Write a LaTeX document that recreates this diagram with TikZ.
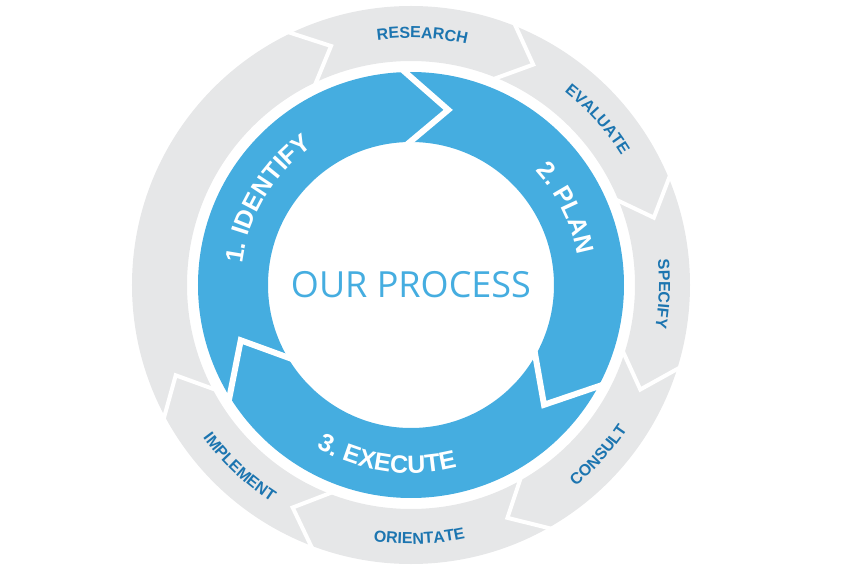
\documentclass[tikz,border=0pt]{standalone}
\usepackage{fontspec}
\setsansfont{Liberation Sans}
\newfontfamily\procfont{Open Sans}
\usetikzlibrary{decorations.text}
\definecolor{ringgray}{RGB}{230,231,232}
\definecolor{ringblue}{RGB}{69,173,224}
\definecolor{labelblue}{RGB}{28,117,176}
\tikzset{
	graycut/.style = {
		draw=white,
		line width=4bp,
		line join=miter
	},
	bluecut/.style = {
		draw=white,
		line width=6bp,
		line join=miter
	},
	steplabel/.style = {
		decorate,
		decoration={text along path, text align=center, text color=labelblue,
			text={|\sffamily\bfseries\fontsize{16bp}{18bp}\selectfont|#1}}
	},
	phaselabel/.style = {
		decorate,
		decoration={text along path, text align=center, text color=white,
			text={|\sffamily\bfseries\fontsize{25bp}{29bp}\selectfont|#1}}
	},
	titlenode/.style = {
		font=\procfont\fontsize{36bp}{40bp}\selectfont,
		text=ringblue,
		inner sep=0pt
	}
}

\begin{document}
\begin{tikzpicture}
\useasboundingbox (-411bp,-285bp) rectangle (437bp,285bp);
\fill[ringgray, even odd rule] (0,0) circle (279bp) (0,0) circle (224bp);
\foreach \b in {116.5,69,23.5,-16.5,-59.5,-110,-151}
	\draw[graycut] (\b:284bp) -- ({\b-8}:252bp) -- (\b:219bp);
\fill[ringblue, even odd rule] (0,0) circle (213bp) (0,0) circle (143bp);
\foreach \b in {93,-27,-147}
	\draw[bluecut] (\b:218bp) -- ({\b-15}:179bp) -- (\b:138bp);
\node[titlenode] (title) at (0,0) {OUR PROCESS};
% outer steps
\path[steplabel=RESEARCH] (127.4:247bp) arc[start angle=127.4, end angle=47.4, radius=247bp];
\path[steplabel=EVALUATE] (81.6:247bp) arc[start angle=81.6, end angle=1.6, radius=247bp];
\path[steplabel=SPECIFY] (37.9:248bp) arc[start angle=37.9, end angle=-42.1, radius=248bp];
\path[steplabel=CONSULT] (-82.2:260bp) arc[start angle=-82.2, end angle=-2.2, radius=260bp];
\path[steplabel=ORIENTATE] (-128.1:259bp) arc[start angle=-128.1, end angle=-48.1, radius=259bp];
\path[steplabel=IMPLEMENT] (186.7:258bp) arc[start angle=186.7, end angle=266.7, radius=258bp];
% inner phases
\path[phaselabel={1. IDENTIFY}] (209:170bp) arc[start angle=209, end angle=89, radius=170bp];
\path[phaselabel={2. PLAN}] (86.4:169bp) arc[start angle=86.4, end angle=-33.6, radius=169bp];
\path[phaselabel={3. EXECUTE}] (-158:188bp) arc[start angle=-158, end angle=-38, radius=188bp];
\end{tikzpicture}
\end{document}
